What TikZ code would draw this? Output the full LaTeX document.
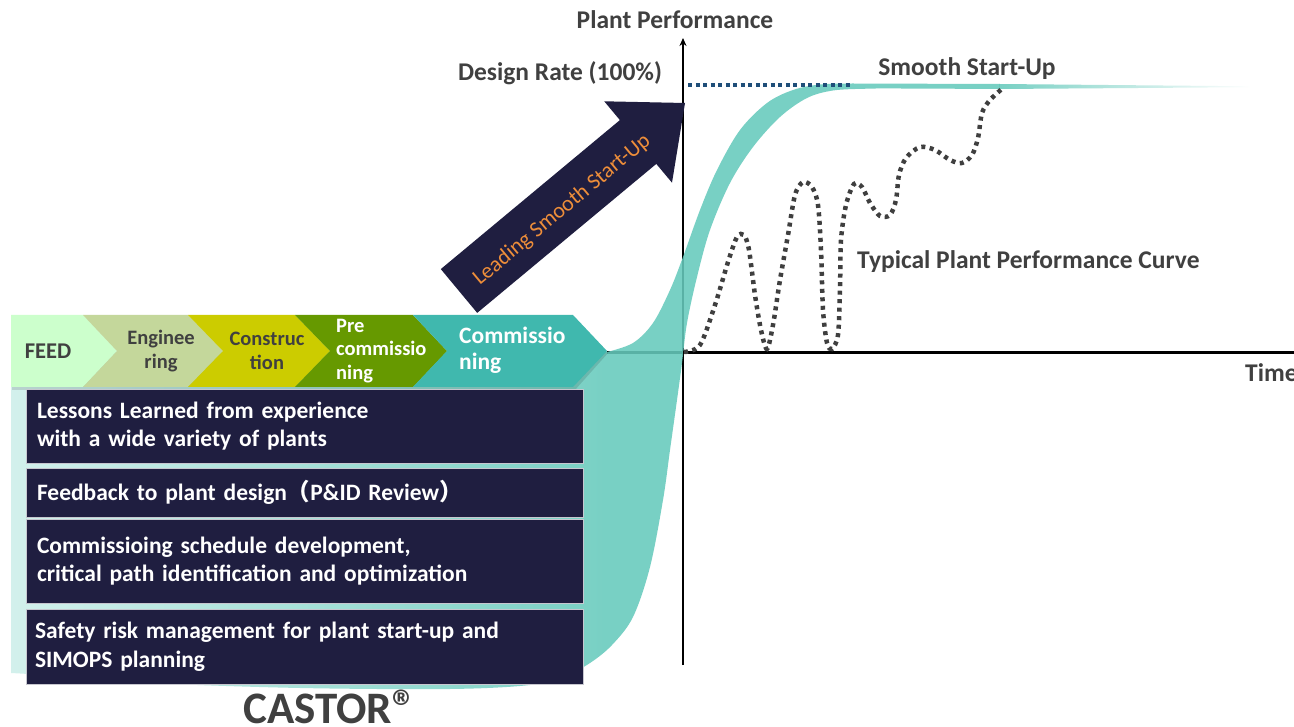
\documentclass[tikz,border=0pt]{standalone}
\usepackage{fontspec}
\setmainfont{Carlito}
\newfontfamily\cjk{Noto Sans CJK JP}
\usetikzlibrary{arrows.meta}
\definecolor{navy}{HTML}{1F1E40}
\definecolor{dgray}{HTML}{404040}
\definecolor{tealC}{HTML}{66CABC}
\definecolor{bowlL}{HTML}{CDEFEA}
\definecolor{feedC}{HTML}{CCFFCC}
\definecolor{engC}{HTML}{C4D79B}
\definecolor{consC}{HTML}{CCCC00}
\definecolor{preC}{HTML}{669900}
\definecolor{commC}{HTML}{40B8AE}
\definecolor{orangeT}{HTML}{EE8E3A}
\definecolor{dblue}{HTML}{1F4E79}
\definecolor{dotC}{HTML}{3F3F3F}
\pgfdeclarehorizontalshading{bowlshade}{100bp}{color(0bp)=(bowlL); color(25bp)=(bowlL); color(55bp)=(tealC); color(100bp)=(tealC)}
\tikzset{
  lbl/.style={font=\bfseries\fontsize{25.5}{30}\selectfont, text=dgray, inner sep=0pt},
  chevtxt/.style={font=\bfseries\fontsize{20.5}{23.5}\selectfont, inner sep=0pt, align=center},
  infobox/.style={fill=navy, draw=white!75!navy, line width=0.8pt, minimum width=557pt, text width=535pt, align=left, inner xsep=11pt, inner ysep=0pt, text=white, font=\bfseries\fontsize{23.5}{28.5}\selectfont},
}
\begin{document}
\begin{tikzpicture}[x=1pt,y=-1pt]
\useasboundingbox (0,0) rectangle (1294,727);
\fill[white] (0,0) rectangle (1294,727);
% axes (under the translucent curve)
\coordinate (O) at (683,353);
\coordinate (Ytop) at (683,38);
\coordinate (Ybot) at (683,665);
\coordinate (Xleft) at (607,353);
\coordinate (Xright) at (1300,353);
\draw[line width=3pt, black] (Xleft) -- (Xright);
\draw[line width=1.8pt, -{Stealth[length=8pt,width=7pt]}] (Ybot) -- (Ytop);
% teal S-curve and CASTOR area
\shade[shading=bowlshade, fill opacity=0.88]
  (11,352) -- plot[smooth, tension=0.55] coordinates {(607,352) (633,343) (653,323) (670,290) (683,257) (700,210) (717,170) (740,130) (767,103) (793,90) (820,84.5) (853,83.5)}
  -- (1000,84) -- (1000,89) --
  plot[smooth, tension=0.55] coordinates {(1000,89) (900,88.5) (867,88.7) (833,90.5) (807,98) (780,117) (753,147) (730,183) (710,230) (697,277) (687,323) (682,363) (677,400) (670,450) (663,500) (650,567) (633,617) (612,645) (590,663) (565,676) (530,685) (450,689) (300,688) (150,683) (60,676) (11,673)} -- cycle;
\shade[left color=tealC, right color=white, fill opacity=0.88] (999,84) -- (1250,86.3) -- (1250,87.2) -- (999,89) -- cycle;
% black axis part on top
\draw[line width=3pt, black] (O) -- (Xright);
% design-rate dotted line
\coordinate (D1) at (688,85);
\coordinate (D2) at (852,85);
\draw[dblue, line width=3.5pt, dash pattern=on 4pt off 3.5pt] (D1) -- (D2);
% typical curve
\draw[dotC, line width=4.5pt, dash pattern=on 4pt off 4.5pt] plot[smooth, tension=0.5] coordinates {
 (684,352) (700,345) (715,305) (728,262) (737,237) (744,235) (749,250) (755,295) (761,330) (767,349) (773,325) (780,280) (788,235) (795,195) (803,182) (812,187) (818,205) (821,250) (823,310) (827,343) (832,349) (838,335) (840,290) (841,240) (846,205) (854,184) (862,187) (870,203) (880,216) (890,215) (896,200) (899,175) (906,158) (920,147) (935,150) (950,160) (962,163) (972,155) (978,138) (982,113) (990,100) (1003,88)};
% big arrow
\fill[navy] (440.8,269.1) -- (619.9,120.1) -- (604.2,101.3) -- (685,103) -- (672.0,182.7) -- (656.3,163.9) -- (477.2,312.9) -- cycle;
\node[rotate=39.8, text=orangeT, font=\fontsize{22}{22}\selectfont, inner sep=0pt] (arrtxt) at (562,210) {Leading Smooth Start-Up};
% chevron row shadow
\fill[black, opacity=0.12] (12,318) -- (575,318) -- (608,353) -- (575,390) -- (12,390) -- cycle;
% chevrons
\fill[feedC] (11,315) -- (83,315) -- (117,351) -- (83,387) -- (11,387) -- cycle;
\fill[engC] (83,315) -- (188,315) -- (223,351) -- (188,387) -- (83,387) -- (117,351) -- cycle;
\fill[consC] (188,315) -- (295,315) -- (330,351) -- (295,387) -- (188,387) -- (223,351) -- cycle;
\fill[preC] (295,315) -- (413,315) -- (447,351) -- (413,387) -- (295,387) -- (330,351) -- cycle;
\fill[commC] (413,315) -- (573,315) -- (607,351) -- (573,387) -- (413,387) -- (447,351) -- cycle;
\node[chevtxt, text=dgray, font=\bfseries\fontsize{22.5}{26}\selectfont] (feed) at (48,351) {FEED};
\node[chevtxt, text=dgray] (eng) at (161,351) {Enginee\\ring};
\node[chevtxt, text=dgray] (cons) at (267,351) {Construc\\tion};
\node[chevtxt, text=white, align=left, anchor=west] (pre) at (336,351) {Pre\\commissio\\ning};
\node[chevtxt, text=white, align=left, anchor=west, font=\bfseries\fontsize{23.5}{25.5}\selectfont] (comm) at (459,350) {Commissio\\ning};
% info boxes
\node[infobox, minimum height=74pt] (b1) at (304.5,426) {Lessons Learned from experience\\with a wide variety of plants};
\node[infobox, minimum height=49pt] (b2) at (304.5,492.5) {Feedback to plant design{\cjk （}P\&ID Review{\cjk ）}};
\node[infobox, minimum height=84pt] (b3) at (304.5,561) {Commissioing schedule development,\\critical path identification and optimization};
\node[infobox, minimum height=75pt, inner xsep=9pt, text width=539pt] (b4) at (304.5,646.5) {Safety risk management for plant start-up and\\SIMOPS planning};
% labels
\node[lbl] (pp) at (675,20) {Plant Performance};
\node[lbl] (dr) at (560,73) {Design Rate (100\%)};
\node[lbl] (ss) at (967,69) {Smooth Start-Up};
\node[lbl, anchor=west] (tp) at (857,262) {Typical Plant Performance Curve};
\node[lbl, anchor=west] (tm) at (1245,373) {Time};
\node[lbl, font=\bfseries\fontsize{45}{50}\selectfont, anchor=base] (castor) at (330,723) {CASTOR\kern0.5pt\raisebox{0em}{\fontsize{48}{48}\selectfont ®}};
\end{tikzpicture}
\end{document}
